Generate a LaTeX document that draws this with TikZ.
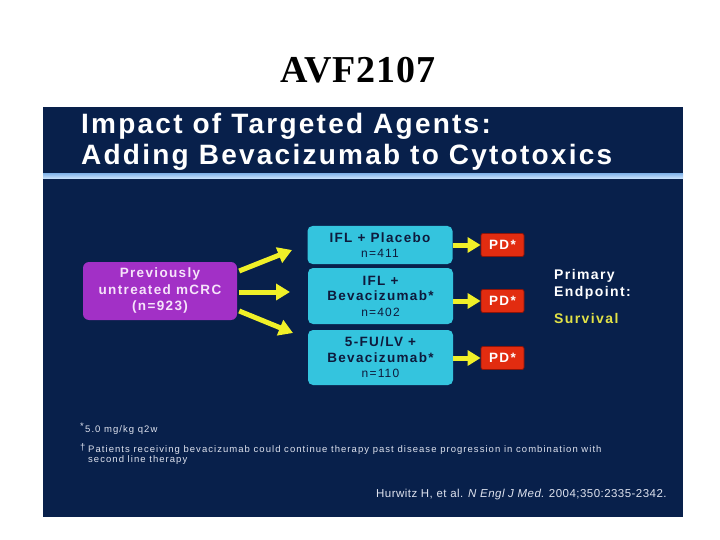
\documentclass[tikz,border=0pt]{standalone}
\usepackage{fontspec}
\setmainfont{Liberation Sans}
\newfontfamily\titlefont[LetterSpace=2.6]{Liberation Serif}
\newfontfamily\lsfont[LetterSpace=10]{Liberation Sans}
\newfontfamily\hdrfont[LetterSpace=8]{Liberation Sans}
\newfontfamily\fnfont[LetterSpace=11]{Liberation Sans}
\newfontfamily\citefont[LetterSpace=4]{Liberation Sans}
\usetikzlibrary{arrows.meta}
\definecolor{navy}{RGB}{8,32,75}
\definecolor{cyanbox}{RGB}{52,196,222}
\definecolor{purplebox}{RGB}{162,48,198}
\definecolor{redbox}{RGB}{226,44,16}
\definecolor{reddark}{RGB}{140,20,10}
\definecolor{arrowyellow}{RGB}{240,240,40}
\definecolor{survyellow}{RGB}{226,226,70}
\definecolor{boxtext}{RGB}{14,26,60}
\definecolor{lavtext}{RGB}{246,228,250}
\definecolor{fntext}{RGB}{222,226,238}
\definecolor{lineA}{RGB}{140,186,236}
\definecolor{lineB}{RGB}{210,232,255}
\tikzset{
  midbox/.style={fill=cyanbox, rounded corners=5pt, minimum width=145pt, align=center,
    text=boxtext, inner sep=0pt, font=\lsfont\bfseries\fontsize{13.5}{15.5}\selectfont},
  srcbox/.style={fill=purplebox, rounded corners=6pt, minimum width=154pt, minimum height=58pt,
    align=center, text=lavtext, inner sep=0pt, font=\lsfont\bfseries\fontsize{13.5}{16.5}\selectfont},
  pdbox/.style={fill=redbox, draw=reddark, line width=0.8pt, rounded corners=2pt,
    minimum width=43pt, minimum height=23pt, inner sep=0pt, text=white,
    font=\lsfont\bfseries\fontsize{13.5}{15}\selectfont},
  bigarrow/.style={draw=arrowyellow, line width=5pt, -{Triangle[width=16pt,length=14pt]}},
  smallarrow/.style={draw=arrowyellow, line width=5pt, -{Triangle[width=15pt,length=13pt]}},
  hdr/.style={anchor=base west, inner sep=0pt, text=white, font=\hdrfont\bfseries\fontsize{28}{30}\selectfont},
  endpt/.style={anchor=base west, inner sep=0pt, text=white, font=\lsfont\bfseries\fontsize{14}{16}\selectfont},
  fn/.style={anchor=base west, inner sep=0pt, text=fntext, font=\fnfont\fontsize{9.5}{11}\selectfont},
}
\begin{document}
\begin{tikzpicture}[x=1pt,y=-1pt]
\useasboundingbox (0,0) rectangle (720,540);
\fill[white] (0,0) rectangle (720,540);
\fill[navy] (43,107) rectangle (683,517);
\shade[top color=lineA, bottom color=lineB] (43,174) rectangle (683,179);

\node[anchor=base, inner sep=0pt, font=\titlefont\bfseries\fontsize{38}{40}\selectfont] (title) at (358,83) {AVF2107};

\node[hdr] (h1) at (81,134) {Impact of Targeted Agents:};
\node[hdr] (h2) at (81,165) {Adding Bevacizumab to Cytotoxics};

\node[srcbox] (src) at (160,291) {Previously\\untreated mCRC\\(n=923)};

\node[midbox, minimum height=38pt] (m1) at (380,245) {IFL + Placebo\\{\mdseries\fontsize{12}{15}\selectfont n=411}};
\node[midbox, minimum height=56pt] (m2) at (380.5,296) {IFL +\\Bevacizumab*\\{\mdseries\fontsize{12}{15}\selectfont n=402}};
\node[midbox, minimum height=55pt] (m3) at (380.5,357.5) {5-FU/LV +\\Bevacizumab*\\{\mdseries\fontsize{12}{15}\selectfont n=110}};

\node[pdbox] (pd1) at (502.5,245) {PD*};
\node[pdbox] (pd2) at (502.5,301) {PD*};
\node[pdbox] (pd3) at (502.5,358) {PD*};

\coordinate (t1) at (292,250);
\coordinate (t2) at (290,292);
\coordinate (t3) at (293,333);
\draw[bigarrow] ([xshift=2pt,yshift=20pt]src.east) -- (t1);
\draw[bigarrow] ([xshift=2pt,yshift=-1pt]src.east) -- (t2);
\draw[bigarrow] ([xshift=2pt,yshift=-20pt]src.east) -- (t3);

\draw[smallarrow] (m1.east |- pd1.west) -- (pd1.west);
\draw[smallarrow] (m2.east |- pd2.west) -- (pd2.west);
\draw[smallarrow] (m3.east |- pd3.west) -- (pd3.west);

\node[endpt] (ep1) at (554,279) {Primary};
\node[endpt] (ep2) at (554,296) {Endpoint:};
\node[endpt, text=survyellow] (surv) at (554,323) {Survival};

\node[fn] (f1a) at (80,429) {*};
\node[fn] (f1) at (85,432) {5.0 mg/kg q2w};
\node[fn] (f2a) at (80,450) {\textdagger};
\node[fn] (f2) at (88,452) {Patients receiving bevacizumab could continue therapy past disease progression in combination with};
\node[fn] (f3) at (88,462) {second line therapy};

\node[anchor=base west, inner sep=0pt, text=fntext, font=\citefont\fontsize{11.5}{13}\selectfont] (cite) at (376,497) {Hurwitz H, et al. \textit{N Engl J Med}. 2004;350:2335-2342.};
\end{tikzpicture}
\end{document}
